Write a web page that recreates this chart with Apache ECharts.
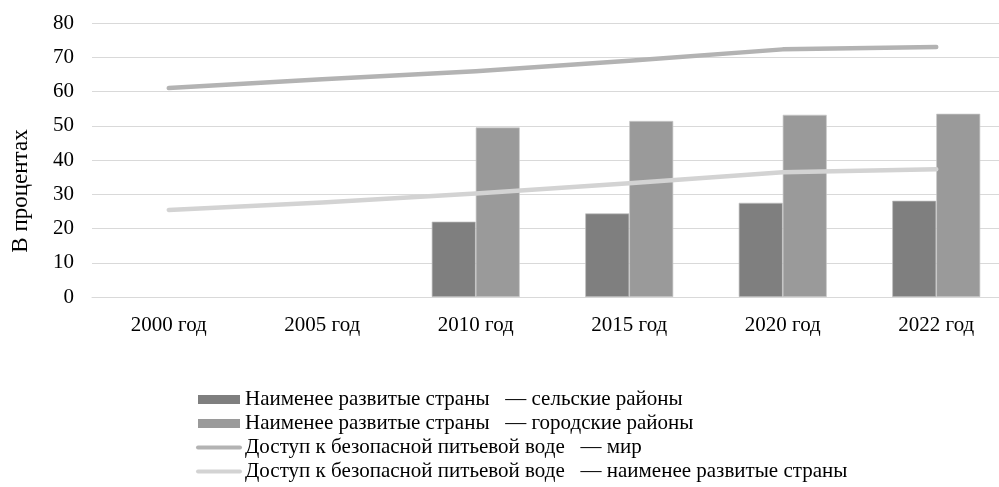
<!DOCTYPE html>
<html><head><meta charset="utf-8">
<script src="https://cdn.jsdelivr.net/npm/echarts@6/dist/echarts.min.js"></script>
<style>html,body{margin:0;padding:0;background:#fff}#c{width:999px;height:487px}</style>
</head><body><div id="c"></div>
<script>
const categories = ['2000 год','2005 год','2010 год','2015 год','2020 год','2022 год'];
const ruralLDC = [null, null, 22.0, 24.4, 27.5, 28.1];
const urbanLDC = [null, null, 49.5, 51.4, 53.2, 53.5];
const worldAccess = [61.0, 63.6, 65.9, 69.0, 72.3, 73.0];
const ldcAccess = [25.4, 27.6, 30.2, 33.2, 36.4, 37.3];
const seriesNames = [
  'Наименее развитые страны   — сельские районы',
  'Наименее развитые страны   — городские районы',
  'Доступ к безопасной питьевой воде   — мир',
  'Доступ к безопасной питьевой воде   — наименее развитые страны'
];
const yTicks = {min: 0, max: 80, interval: 10};
const font = 'Liberation Serif';
const chart = echarts.init(document.getElementById('c'));
chart.setOption({
  animation: false,
  textStyle: {fontFamily: font, color: '#000'},
  grid: {left: 92, width: 921, top: 23, height: 274, outerBoundsMode: 'none', containLabel: false},
  legend: {
    orient: 'vertical', left: 196, top: 389, padding: 0,
    itemWidth: 42, itemHeight: 9, itemGap: 3,
    textStyle: {fontFamily: font, fontSize: 21, color: '#000'},
    data: [
      {name: seriesNames[0], icon: 'rect', itemStyle: {borderWidth: 0}},
      {name: seriesNames[1], icon: 'rect', itemStyle: {borderWidth: 0}},
      {name: seriesNames[2], itemStyle: {opacity: 0}, lineStyle: {width: 4, color: '#b3b3b3'}},
      {name: seriesNames[3], itemStyle: {opacity: 0}, lineStyle: {width: 4, color: '#d3d3d3'}}
    ]
  },
  xAxis: {
    type: 'category', data: categories,
    axisLine: {lineStyle: {color: '#d9d9d9', width: 1}},
    axisTick: {show: false},
    axisLabel: {fontFamily: font, fontSize: 21, color: '#000', margin: 18}
  },
  yAxis: {
    type: 'value', min: yTicks.min, max: yTicks.max, interval: yTicks.interval,
    name: 'В процентах', nameLocation: 'middle', nameGap: 60, nameRotate: 90,
    nameTextStyle: {fontFamily: font, fontSize: 23, color: '#000', padding: [0, 62, 0, 0]},
    axisLine: {show: false}, axisTick: {show: false},
    axisLabel: {fontFamily: font, fontSize: 21, color: '#000', margin: 18},
    splitLine: {lineStyle: {color: '#d9d9d9', width: 1}}
  },
  series: [
    {name: seriesNames[0], type: 'bar', data: ruralLDC, barWidth: 44, barGap: '0%',
     itemStyle: {color: '#7f7f7f', borderColor: '#c0c0c0', borderWidth: 0.7}},
    {name: seriesNames[1], type: 'bar', data: urbanLDC, barWidth: 44, barGap: '0%',
     itemStyle: {color: '#9a9a9a', borderColor: '#c8c8c8', borderWidth: 0.7}},
    {name: seriesNames[2], type: 'line', data: worldAccess, symbol: 'none',
     lineStyle: {color: '#b3b3b3', width: 4.5, cap: 'round', join: 'round'}, itemStyle: {color: '#b3b3b3'}, z: 5},
    {name: seriesNames[3], type: 'line', data: ldcAccess, symbol: 'none',
     lineStyle: {color: '#d3d3d3', width: 4.5, cap: 'round', join: 'round'}, itemStyle: {color: '#d3d3d3'}, z: 5}
  ]
});
</script></body></html>
